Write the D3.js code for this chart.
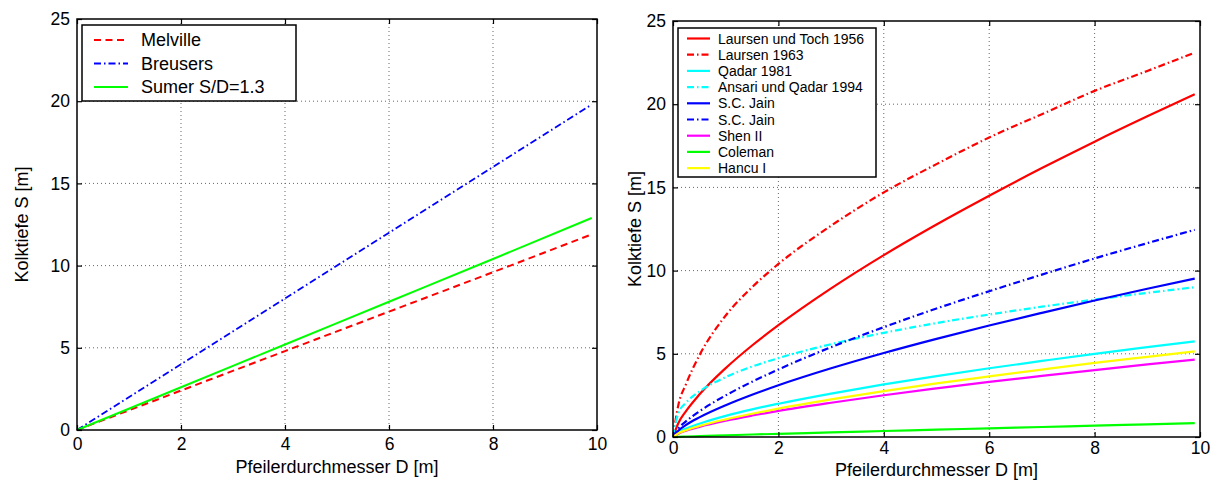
<!DOCTYPE html>
<html>
<head>
<meta charset="utf-8">
<script src="https://cdn.jsdelivr.net/npm/d3@7"></script>
<style>
  html, body { margin: 0; padding: 0; background: #fff; }
  svg { display: block; font-family: "Liberation Sans", Arial, sans-serif; }
</style>
</head>
<body>
<svg id="chart" width="1211" height="483"></svg>
<script>
// ---- Left panel: linear scour formulas ----
const leftD = [0, 2, 4, 6, 8, 9.9];
const melville = [0, 2.4, 4.8, 7.2, 9.6, 11.9];
const breusers = [0, 4, 8, 12, 16, 19.8];
const sumer = [0, 2.6, 5.2, 7.8, 10.4, 12.9];

// ---- Right panel: empirical scour formulas ----
const rightD = [0, 0.1, 0.25, 0.5, 1, 1.5, 2, 3, 4, 5, 6, 7, 8, 9, 9.9];
const laursenToch1956 = [0, 0.83, 1.57, 2.55, 4.14, 5.50, 6.72, 8.93, 10.93, 12.77, 14.50, 16.16, 17.75, 19.27, 20.6];
const laursen1963 = [0, 1.9, 3.2, 4.9, 7.3, 9.0, 10.4, 12.7, 14.7, 16.4, 18.0, 19.4, 20.8, 22.0, 23.1];
const qadar1981 = [0, 0.28, 0.51, 0.80, 1.27, 1.66, 2.0, 2.61, 3.16, 3.66, 4.13, 4.57, 5.0, 5.40, 5.75];
const ansariQadar1994 = [0, 1.43, 2.07, 2.73, 3.60, 4.23, 4.74, 5.58, 6.26, 6.85, 7.36, 7.83, 8.26, 8.66, 9.0];
const jainSolid = [0, 0.38, 0.73, 1.18, 1.91, 2.54, 3.11, 4.13, 5.05, 5.90, 6.70, 7.46, 8.20, 8.91, 9.52];
const jainDashDot = [0, 0.50, 0.95, 1.54, 2.50, 3.32, 4.06, 5.40, 6.60, 7.72, 8.76, 9.76, 10.73, 11.65, 12.45];
const shenII = [0, 0.20, 0.38, 0.61, 0.98, 1.29, 1.57, 2.06, 2.51, 2.92, 3.31, 3.67, 4.02, 4.36, 4.65];
const coleman = [0, 0.01, 0.03, 0.05, 0.10, 0.15, 0.19, 0.28, 0.36, 0.44, 0.52, 0.60, 0.68, 0.76, 0.83];
const hancuI = [0, 0.22, 0.41, 0.66, 1.06, 1.40, 1.71, 2.26, 2.76, 3.22, 3.64, 4.05, 4.45, 4.82, 5.15];

// ---- Shared axis settings ----
const xTicks = [0, 2, 4, 6, 8, 10];
const yTicks = [0, 5, 10, 15, 20, 25];
const xTitle = "Pfeilerdurchmesser D [m]";
const yTitle = "Kolktiefe S [m]";

const DASH = "7,4.5";
const DASHDOT = "7,3,1.5,3";

const svg = d3.select("#chart");

function panel(box, series, legend) {
  const x = d3.scaleLinear().domain([0, 10]).range([box.left, box.right]);
  const y = d3.scaleLinear().domain([0, 25]).range([box.bottom, box.top]);
  const g = svg.append("g");

  // dotted grid
  g.append("g").selectAll("line").data(xTicks.slice(1, -1)).join("line")
    .attr("x1", d => x(d)).attr("x2", d => x(d))
    .attr("y1", box.top).attr("y2", box.bottom)
    .attr("stroke", "#666").attr("stroke-width", 1).attr("stroke-dasharray", "1,3");
  g.append("g").selectAll("line").data(yTicks.slice(1, -1)).join("line")
    .attr("y1", d => y(d)).attr("y2", d => y(d))
    .attr("x1", box.left).attr("x2", box.right)
    .attr("stroke", "#666").attr("stroke-width", 1).attr("stroke-dasharray", "1,3");

  // data curves
  const line = d3.line().x(d => x(d[0])).y(d => y(d[1])).curve(d3.curveMonotoneX);
  series.forEach(s => {
    g.append("path")
      .datum(s.xs.map((d, i) => [d, s.ys[i]]))
      .attr("d", line)
      .attr("fill", "none")
      .attr("stroke", s.color)
      .attr("stroke-width", s.width)
      .attr("stroke-dasharray", s.dash || null)
      .attr("stroke-linejoin", "round");
  });

  // axes: bottom/left with labels, top/right ticks only
  const tickLen = 5;
  const bottom = d3.axisBottom(x).tickValues(xTicks).tickSizeInner(-tickLen).tickSizeOuter(0).tickPadding(box.xPad);
  const left = d3.axisLeft(y).tickValues(yTicks).tickSizeInner(-tickLen).tickSizeOuter(0).tickPadding(7);
  const top = d3.axisTop(x).tickValues(xTicks).tickSizeInner(-tickLen).tickSizeOuter(0).tickFormat("");
  const right = d3.axisRight(y).tickValues(yTicks).tickSizeInner(-tickLen).tickSizeOuter(0).tickFormat("");

  const styleAxis = sel => {
    sel.select(".domain").remove();
    sel.selectAll("line").attr("stroke", "#000").attr("stroke-width", 1.2);
    sel.selectAll("text").attr("font-size", 17.5).attr("fill", "#000")
      .attr("font-family", "'Liberation Sans', Arial, sans-serif");
  };
  g.append("g").attr("transform", `translate(0,${box.bottom})`).call(bottom).call(styleAxis);
  g.append("g").attr("transform", `translate(${box.left},0)`).call(left).call(styleAxis);
  g.append("g").attr("transform", `translate(0,${box.top})`).call(top).call(styleAxis);
  g.append("g").attr("transform", `translate(${box.right},0)`).call(right).call(styleAxis);

  // frame
  g.append("rect")
    .attr("x", box.left).attr("y", box.top)
    .attr("width", box.right - box.left).attr("height", box.bottom - box.top)
    .attr("fill", "none").attr("stroke", "#000").attr("stroke-width", 1.5);

  // axis titles
  g.append("text")
    .attr("x", (box.left + box.right) / 2).attr("y", box.xTitleY)
    .attr("text-anchor", "middle").attr("font-size", 18).text(xTitle);
  g.append("text")
    .attr("transform", `translate(${box.yTitleX},${(box.top + box.bottom) / 2}) rotate(-90)`)
    .attr("text-anchor", "middle").attr("font-size", 18).text(yTitle);

  // legend
  const lg = g.append("g");
  lg.append("rect")
    .attr("x", legend.x).attr("y", legend.y)
    .attr("width", legend.w).attr("height", legend.h)
    .attr("fill", "#fff").attr("stroke", "#000").attr("stroke-width", 1.5);
  series.forEach((s, i) => {
    const cy = legend.y + legend.first + i * legend.step;
    lg.append("line")
      .attr("x1", legend.x + legend.l1).attr("x2", legend.x + legend.l2)
      .attr("y1", cy).attr("y2", cy)
      .attr("stroke", s.color).attr("stroke-width", s.width)
      .attr("stroke-dasharray", s.dash || null);
    lg.append("text")
      .attr("x", legend.x + legend.tx).attr("y", cy)
      .attr("dy", "0.36em").attr("font-size", legend.fs).text(s.name);
  });
}

panel(
  { left: 77, right: 597, top: 19, bottom: 430, yTitleX: 28, xPad: 8, xTitleY: 473 },
  [
    { name: "Melville", xs: leftD, ys: melville, color: "#ff0000", width: 2, dash: DASH },
    { name: "Breusers", xs: leftD, ys: breusers, color: "#0000ff", width: 1.8, dash: DASHDOT },
    { name: "Sumer S/D=1.3", xs: leftD, ys: sumer, color: "#00ff00", width: 2 }
  ],
  { x: 82, y: 25, w: 214, h: 76, first: 15, step: 23.5, l1: 12, l2: 46, tx: 59, fs: 18 }
);

panel(
  { left: 673, right: 1200, top: 21, bottom: 437, yTitleX: 641, xPad: 5, xTitleY: 476 },
  [
    { name: "Laursen und Toch 1956", xs: rightD, ys: laursenToch1956, color: "#ff0000", width: 2.2 },
    { name: "Laursen 1963", xs: rightD, ys: laursen1963, color: "#ff0000", width: 2.2, dash: DASHDOT },
    { name: "Qadar 1981", xs: rightD, ys: qadar1981, color: "#00ffff", width: 2.2 },
    { name: "Ansari und Qadar 1994", xs: rightD, ys: ansariQadar1994, color: "#00ffff", width: 2.2, dash: DASHDOT },
    { name: "S.C. Jain", xs: rightD, ys: jainSolid, color: "#0000ff", width: 2.2 },
    { name: "S.C. Jain", xs: rightD, ys: jainDashDot, color: "#0000ff", width: 2.2, dash: DASHDOT },
    { name: "Shen II", xs: rightD, ys: shenII, color: "#ff00ff", width: 2.2 },
    { name: "Coleman", xs: rightD, ys: coleman, color: "#00ff00", width: 2.2 },
    { name: "Hancu I", xs: rightD, ys: hancuI, color: "#ffff00", width: 2.2 }
  ],
  { x: 678, y: 28, w: 198, h: 149, first: 10.5, step: 16.2, l1: 9, l2: 32, tx: 40, fs: 14 }
);
</script>
</body>
</html>
